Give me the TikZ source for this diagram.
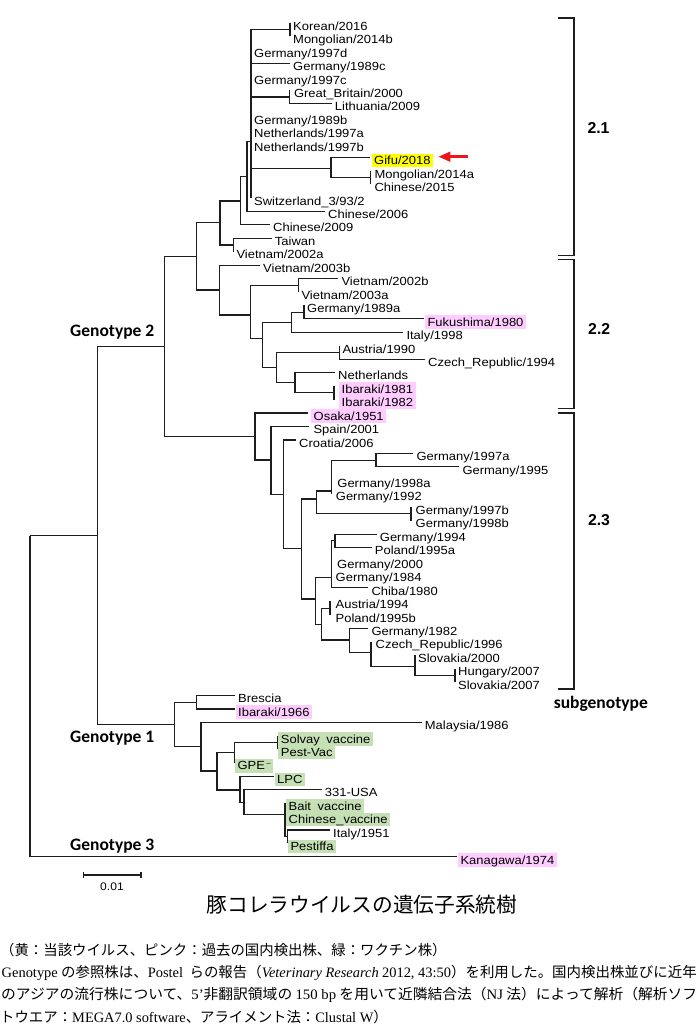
\documentclass[tikz,border=0pt]{standalone}
\usepackage{graphicx}
\usepackage{fontspec}
\usetikzlibrary{arrows.meta}
\newfontfamily\lf{Liberation Sans}[FakeStretch=1.1]
\newfontfamily\lsf{Liberation Sans}
\newfontfamily\cb{Carlito}
\newfontfamily\jp{Noto Sans CJK JP}
\newfontfamily\tm{Liberation Serif}
\definecolor{hly}{RGB}{255,255,0}
\definecolor{hlp}{RGB}{255,204,255}
\definecolor{hlg}{RGB}{197,224,180}
\definecolor{brc}{RGB}{30,30,30}
\definecolor{arr}{RGB}{240,20,25}
\newcommand\mytip[6][0.5]{\coordinate (#2) at (#3,{23+13.45*#4});
  \node[lbl,#5] (#2-t) at ([xshift=#1pt,yshift=-3.05pt]#2) {#6};}
\begin{document}
\begin{tikzpicture}[x=1pt,y=-1pt,
  edge/.style={line width=1.15pt, draw=brc},
  lbl/.style={anchor=west, inner xsep=2.5pt, inner ysep=0pt, text height=10.9pt, text depth=2.6pt, font=\lf\fontsize{11.8}{13}\selectfont},
  yel/.style={fill=hly}, pnk/.style={fill=hlp}, grn/.style={fill=hlg},
  gt/.style={anchor=base west, inner sep=0pt, font=\cb\bfseries\fontsize{17.5}{20}\selectfont},
  sg/.style={anchor=base, inner sep=0pt, font=\lsf\bfseries\fontsize{15.8}{18}\selectfont},
  brk/.style={line width=1.3pt, draw=brc},
  jpl/.style={anchor=base west, inner sep=0pt, font=\jp\fontsize{14.4}{16}\selectfont},
]
\useasboundingbox (0,0) rectangle (700,1036);
% internal nodes
\coordinate (R) at (30,535.7);
\coordinate (N12) at (97.7,535.7);
\coordinate (G2) at (164.3,346.7);
\coordinate (N2a) at (196.7,256.3);
\coordinate (C21) at (220,222.3);
\coordinate (a1) at (240.7,201);
\coordinate (a2) at (247,176.7);
\coordinate (P) at (251,141.7);
\coordinate (km) at (290,29.7);
\coordinate (gb) at (289.3,97);
\coordinate (gf) at (331,168.3);
\coordinate (mc) at (370.3,177.7);
\coordinate (tv) at (233.3,245);
\coordinate (C22) at (219.3,290);
\coordinate (b1) at (250.7,315);
\coordinate (b2) at (298.3,285.7);
\coordinate (b3) at (262.7,338.3);
\coordinate (b4) at (291.7,322.3);
\coordinate (b5) at (304,312.2);
\coordinate (b6) at (276.7,367.7);
\coordinate (b7) at (339.3,352.5);
\coordinate (b8) at (295,382.7);
\coordinate (b9) at (334,392.9);
\coordinate (C23) at (255,436.7);
\coordinate (c1) at (271,460);
\coordinate (c2) at (283.3,494.3);
\coordinate (c3) at (301.7,548.3);
\coordinate (c4) at (316.7,499);
\coordinate (c5) at (331.7,491);
\coordinate (c6) at (376,460.1);
\coordinate (c7) at (411,513.9);
\coordinate (c8) at (315.7,599);
\coordinate (c9) at (331.5,577.3);
\coordinate (c10) at (335,540.8);
\coordinate (c11) at (321.7,624.3);
\coordinate (c12) at (330,608.1);
\coordinate (c13) at (349.3,640);
\coordinate (c14) at (371,652.7);
\coordinate (c15) at (415,666.7);
\coordinate (c16) at (455,675.3);
\coordinate (G1) at (174.3,724.7);
\coordinate (d1) at (196.7,702.7);
\coordinate (d2) at (201,746.7);
\coordinate (d3) at (217,771);
\coordinate (d4) at (234.3,752.7);
\coordinate (d5) at (277.7,742.6);
\coordinate (d6) at (240,790);
\coordinate (d7) at (244,802.3);
\coordinate (d8) at (285,814.3);
\coordinate (d9) at (287.3,836.7);
% tips and labels
\mytip{kor}{290}{0}{}{Korean/2016}
\mytip{mon14b}{290}{1}{}{Mongolian/2014b}
\mytip{ger97d}{251}{2}{}{Germany/1997d}
\mytip{ger89c}{290}{3}{}{Germany/1989c}
\mytip{ger97c}{251}{4}{}{Germany/1997c}
\mytip[2]{gbr}{289.3}{5}{}{Great\_Britain/2000}
\mytip{lit}{331.7}{6}{}{Lithuania/2009}
\mytip{ger89b}{251}{7}{}{Germany/1989b}
\mytip{net97a}{251}{8}{}{Netherlands/1997a}
\mytip{net97b}{251}{9}{}{Netherlands/1997b}
\mytip[1.5]{gifu}{370}{10}{yel}{Gifu/2018}
\mytip[1.5]{mon14a}{370.3}{11}{}{Mongolian/2014a}
\mytip[1.5]{chi15}{370.3}{12}{}{Chinese/2015}
\mytip{swi}{251}{13}{}{Switzerland\_3/93/2}
\mytip{chi06}{325}{14}{}{Chinese/2006}
\mytip{chi09}{270}{15}{}{Chinese/2009}
\mytip{tai}{271.7}{16}{}{Taiwan}
\mytip{vie02a}{233.3}{17}{}{Vietnam/2002a}
\mytip{vie03b}{260}{18}{}{Vietnam/2003b}
\mytip{vie02b}{338.3}{19}{}{Vietnam/2002b}
\mytip{vie03a}{298.3}{20}{}{Vietnam/2003a}
\mytip{ger89a}{304}{21}{}{Germany/1989a}
\mytip{fuk}{424.3}{22}{pnk}{Fukushima/1980}
\mytip{ita98}{403.3}{23}{}{Italy/1998}
\mytip{aus90}{339.3}{24}{}{Austria/1990}
\mytip{cze94}{425}{25}{}{Czech\_Republic/1994}
\mytip{neth}{335}{26}{}{Netherlands}
\mytip[5]{iba81}{334}{27}{pnk}{Ibaraki/1981}
\mytip[5]{iba82}{334}{28}{pnk}{Ibaraki/1982}
\mytip[2.7]{osa}{308.3}{29}{pnk}{Osaka/1951}
\mytip[1.5]{spa}{309.3}{30}{}{Spain/2001}
\mytip{cro}{296}{31}{}{Croatia/2006}
\mytip{ger97a}{413.3}{32}{}{Germany/1997a}
\mytip{ger95}{459.3}{33}{}{Germany/1995}
\mytip[3]{ger98a}{331.7}{34}{}{Germany/1998a}
\mytip[1.5]{ger92}{331.7}{35}{}{Germany/1992}
\mytip[2]{ger97b}{411}{36}{}{Germany/1997b}
\mytip[2]{ger98b}{411}{37}{}{Germany/1998b}
\mytip{ger94}{376.7}{38}{}{Germany/1994}
\mytip{pol95a}{371.7}{39}{}{Poland/1995a}
\mytip[3]{ger00}{331.5}{40}{}{Germany/2000}
\mytip[1.5]{ger84}{331.5}{41}{}{Germany/1984}
\mytip{chi80}{368.3}{42}{}{Chiba/1980}
\mytip[3]{aus94}{330}{43}{}{Austria/1994}
\mytip[3]{pol95b}{330}{44}{}{Poland/1995b}
\mytip{ger82}{368.3}{45}{}{Germany/1982}
\mytip[2]{cze96}{371}{46}{}{Czech\_Republic/1996}
\mytip{slo00}{415}{47}{}{Slovakia/2000}
\mytip{hun}{455}{48}{}{Hungary/2007}
\mytip{slo07}{455}{49}{}{Slovakia/2007}
\mytip{bre}{235}{50}{}{Brescia}
\mytip{iba66}{235}{51}{pnk}{Ibaraki/1966}
\mytip{mal}{421.7}{52}{}{Malaysia/1986}
\mytip{sol}{277.7}{53}{grn}{Solvay\hspace{0.556em}vaccine}
\mytip{pest}{277.7}{54}{grn}{Pest-Vac}
\mytip{gpe}{234.3}{55}{grn}{GPE\hspace{1.5pt}\raisebox{4pt}{\fontsize{7}{7}\selectfont –}}
\mytip{lpc}{274}{56}{grn}{LPC}
\mytip{usa}{321.7}{57}{}{331-USA}
\mytip[1]{bait}{285}{58}{grn}{Bait\hspace{0.556em}vaccine}
\mytip[1]{chv}{285}{59}{grn}{Chinese\_vaccine}
\mytip{ita51}{330}{60}{}{Italy/1951}
\mytip{pst}{287.3}{61}{grn}{Pestiffa}
\mytip{kan}{457.3}{62}{pnk}{Kanagawa/1974}
% edges (one path, so overlapping segments are stroked once)
\draw[edge] \foreach \p/\c in {R/kan, R/N12, N12/G2, N12/G1, G2/N2a, G2/C23, N2a/C21, N2a/C22,
  C21/a1, C21/tv, a1/a2, a1/chi09, a2/P, a2/chi06,
  P/km, P/ger97d, P/ger89c, P/ger97c, P/gb, P/ger89b, P/net97a, P/net97b, P/gf, P/swi,
  km/kor, km/mon14b, gb/gbr, gb/lit, gf/gifu, gf/mc, mc/mon14a, mc/chi15, tv/tai, tv/vie02a,
  C22/vie03b, C22/b1, b1/b2, b1/b3, b2/vie02b, b2/vie03a, b3/b4, b3/b6, b4/b5, b4/ita98,
  b5/ger89a, b5/fuk, b6/b7, b6/b8, b7/aus90, b7/cze94, b8/neth, b8/b9, b9/iba81, b9/iba82,
  C23/osa, C23/c1, c1/spa, c1/c2, c2/cro, c2/c3, c3/c4, c3/c8, c4/c5, c4/c7,
  c5/c6, c5/ger98a, c5/ger92, c6/ger97a, c6/ger95, c7/ger97b, c7/ger98b,
  c8/c9, c8/c11, c9/c10, c9/ger00, c9/ger84, c9/chi80, c10/ger94, c10/pol95a,
  c11/c12, c11/c13, c12/aus94, c12/pol95b, c13/ger82, c13/c14, c14/cze96, c14/c15,
  c15/slo00, c15/c16, c16/hun, c16/slo07,
  G1/d1, G1/d2, d1/bre, d1/iba66, d2/mal, d2/d3, d3/d4, d3/d6, d4/d5, d4/gpe,
  d5/sol, d5/pest, d6/lpc, d6/d7, d7/usa, d7/d8, d8/bait, d8/chv, d8/d9, d9/ita51, d9/pst}
  {(\p) |- (\c)};
% red arrow
\coordinate (arS) at (467.5,156.7);
\coordinate (arE) at (438.3,156.7);
\draw[line width=2.7pt, draw=arr, -{Triangle[length=12pt,width=9.5pt]}] (arS) -- (arE);
% genotype labels
\node[gt] (g2l) at (70,336.3) {Genotype 2};
\node[gt] (g1l) at (70,742) {Genotype 1};
\node[gt] (g3l) at (70,850.3) {Genotype 3};
% brackets
\draw[brk] (558,18) -- (574,18) -- (574,255.3) -- (558,255.3);
\draw[brk] (558,259.3) -- (574,259.3) -- (574,408.6) -- (558,408.6);
\draw[brk] (558,413) -- (574,413) -- (574,689) -- (558,689);
\node[sg] (s21) at (598.5,133) {2.1};
\node[sg] (s22) at (599.2,334.6) {2.2};
\node[sg] (s23) at (599,525) {2.3};
\node[anchor=base, inner sep=0pt, font=\cb\bfseries\fontsize{17.5}{20}\selectfont] (sgl) at (600.8,708) {subgenotype};
% scale bar
\coordinate (sb1) at (83.3,875);
\coordinate (sb2) at (141,875);
\draw[edge] ([yshift=3pt]sb1) -- ([yshift=-3pt]sb1) (sb1) -- (sb2) ([yshift=3pt]sb2) -- ([yshift=-3pt]sb2);
\node[inner sep=0pt, font=\lf\fontsize{11}{12}\selectfont] (sbl) at (112,886.7) {0.01};
% title and notes
\node[inner sep=0pt, font=\jp\fontsize{20.7}{24}\selectfont] (title) at (362,905) {豚コレラウイルスの遺伝子系統樹};
\node[jpl] (t1) at (0,955.5) {（黄：当該ウイルス、ピンク：過去の国内検出株、緑：ワクチン株）};
\node[jpl] (t2) at (1.5,977.2) {\resizebox{695pt}{\height}{{\tm Genotype} の参照株は、{\tm Postel}\ \ らの報告（{\tm\itshape Veterinary Research} {\tm 2012, 43:50}）を利用した。国内検出株並びに近年}};
\node[jpl] (t3) at (1,999.8) {\resizebox{696pt}{\height}{のアジアの流行株について、{\tm 5’}非翻訳領域の {\tm 150 bp} を用いて近隣結合法（{\tm NJ} 法）によって解析（解析ソフ}};
\node[jpl] (t4) at (0,1022.2) {トウエア：{\tm MEGA7.0 software}、アライメント法：{\tm Clustal W}）};
\end{tikzpicture}
\end{document}
